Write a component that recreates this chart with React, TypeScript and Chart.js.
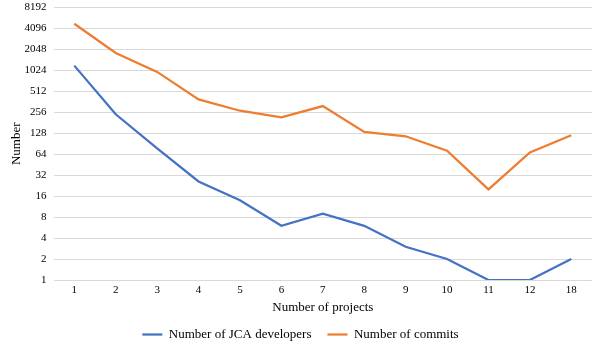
import React, { useEffect, useRef } from "react";
import { Chart, registerables } from "chart.js";

Chart.register(...registerables);

const categories = ["1", "2", "3", "4", "5", "6", "7", "8", "9", "10", "11", "12", "18"];
const developers = [1200, 240, 78, 26, 14, 6, 9, 6, 3, 2, 1, 1, 2];
const commits = [4800, 1820, 975, 393, 270, 217, 315, 134, 116, 72, 20, 68, 120];
const yTicks = [1, 2, 4, 8, 16, 32, 64, 128, 256, 512, 1024, 2048, 4096, 8192];

const FONT = "'Liberation Serif', 'Times New Roman', serif";

export default function App() {
  const ref = useRef<HTMLCanvasElement>(null);
  useEffect(() => {
    if (!ref.current) return;
    const chart = new Chart(ref.current, {
      type: "line",
      data: {
        labels: categories,
        datasets: [
          {
            label: "Number of JCA developers",
            data: developers,
            borderColor: "#4472C4",
            backgroundColor: "#4472C4",
            borderWidth: 2.25,
            pointRadius: 0,
            tension: 0,
          },
          {
            label: "Number of commits",
            data: commits,
            borderColor: "#ED7D31",
            backgroundColor: "#ED7D31",
            borderWidth: 2.25,
            pointRadius: 0,
            tension: 0,
          },
        ],
      },
      options: {
        animation: false,
        responsive: false,
        maintainAspectRatio: false,
        layout: { padding: { top: 0, right: 6, left: 9, bottom: 0 } },
        plugins: {
          legend: {
            position: "bottom",
            maxHeight: 35,
            labels: {
              usePointStyle: true,
              pointStyle: "line",
              pointStyleWidth: 20,
              boxHeight: 2,
              color: "#000",
              font: { family: FONT, size: 13 },
              padding: 16,
            },
          },
          tooltip: { enabled: false },
        },
        scales: {
          x: {
            offset: true,
            grid: { display: false, drawTicks: false },
            border: { display: false },
            ticks: { color: "#000", font: { family: FONT, size: 11, lineHeight: 1.0 }, padding: 5 },
            title: {
              display: true,
              text: "Number of projects",
              color: "#000",
              font: { family: FONT, size: 13, lineHeight: 1.0 },
              padding: { top: 0, bottom: -2 },
            },
          },
          y: {
            type: "logarithmic",
            min: 1,
            max: 8192,
            afterBuildTicks: (scale: any) => {
              scale.ticks = yTicks.map((v) => ({ value: v }));
            },
            grid: { color: "#d9d9d9", lineWidth: 1, drawTicks: false },
            border: { display: false },
            ticks: {
              color: "#000",
              font: { family: FONT, size: 11, lineHeight: 0.1 },
              padding: 7,
              autoSkip: false,
              callback: (v: any) => String(v),
            },
            title: {
              display: true,
              text: "Number",
              color: "#000",
              font: { family: FONT, size: 13 },
              padding: { top: 0, bottom: -7 },
            },
          },
        },
      },
    });
    return () => chart.destroy();
  }, []);
  return (
    <div style={{ position: "fixed", left: 0, top: 0, width: 598, height: 347, background: "#fff" }}>
      <canvas ref={ref} width={598} height={347} style={{ width: 598, height: 347 }} />
    </div>
  );
}
